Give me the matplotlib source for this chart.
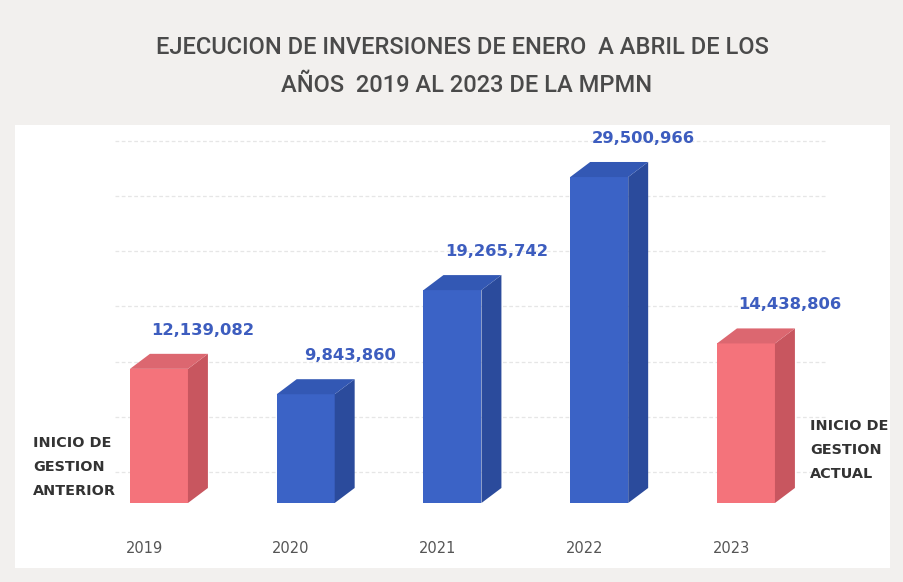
import matplotlib.pyplot as plt
from matplotlib.patches import Polygon, Rectangle

# === DATA ===
years = ["2019", "2020", "2021", "2022", "2023"]
values = [12139082, 9843860, 19265742, 29500966, 14438806]
labels = ["12,139,082", "9,843,860", "19,265,742", "29,500,966", "14,438,806"]
gestion = ["anterior", "otra", "otra", "otra", "actual"]

# === STYLE ===
RED = ("#f4737b", "#c8565f", "#dc6770")     # front, side, top
BLUE = ("#3b63c6", "#2b4b9c", "#3358b4")
BG = "#f2f0ee"

W, H = 904, 582
fig = plt.figure(figsize=(W / 100, H / 100), dpi=100, facecolor=BG)

# white plot area (pixel box -> figure fraction)
fig.patches.append(Rectangle((15 / W, 1 - 568 / H), 875 / W, 443 / H,
                             transform=fig.transFigure, facecolor="white",
                             edgecolor="none", zorder=-5))

# axes: baseline at y=503px, 11.05 px per million, bars 147px apart
ax = fig.add_axes([85.6 / W, 79 / H, 733.75 / W, 386.75 / H])
ax.set_zorder(2)
ax.set_xlim(-0.5, 4.5)
ax.set_ylim(0, 35)
ax.axis("off")
ax.patch.set_alpha(0)

vals_m = [v / 1e6 for v in values]
bw = 0.395      # bar width
ddx = 0.136     # depth offset in x
ddy = 1.36      # depth offset in y (millions)

# faint gridlines on the back wall
for k in range(7):
    gy = 5 * k + 2.8
    ax.plot([-0.3, 4.55], [gy, gy], color="#e6e6e6", lw=0.9,
            ls=(0, (3, 2)), zorder=1, clip_on=False)

for i, (v, g) in enumerate(zip(vals_m, gestion)):
    front, side, top = RED if g != "otra" else BLUE
    x0 = i - bw / 2
    x1 = i + bw / 2
    ax.bar(i, v, width=bw, color=front, edgecolor="none", zorder=3)
    ax.add_patch(Polygon([(x1, 0), (x1 + ddx, ddy), (x1 + ddx, v + ddy), (x1, v)],
                         closed=True, facecolor=side, edgecolor="none", zorder=3))
    ax.add_patch(Polygon([(x0, v), (x1, v), (x1 + ddx, v + ddy), (x0 + ddx, v + ddy)],
                         closed=True, facecolor=top, edgecolor="none", zorder=3))
    ax.text(i + 0.3, v + 3.5, labels[i], ha="center", va="center",
            fontsize=11.8, fontweight="bold", color="#3d5dbf", zorder=4)
    ax.text(i - 0.1, -4.1, years[i], ha="center", va="center",
            fontsize=10.5, color="#555555", clip_on=False)

fig.text(33 / W, 1 - 467 / H, "INICIO DE\nGESTION\nANTERIOR", ha="left",
         va="center", fontsize=10.4, fontweight="bold", color="#333333",
         linespacing=1.9)
fig.text(810 / W, 1 - 450 / H, "INICIO DE\nGESTION\nACTUAL", ha="left",
         va="center", fontsize=10.4, fontweight="bold", color="#333333",
         linespacing=1.9)

fig.text(462 / W, 1 - 48 / H, "EJECUCION DE INVERSIONES DE ENERO  A ABRIL DE LOS",
         ha="center", va="center", fontsize=17, fontweight="medium",
         color="#4a4a4a", family=["Roboto", "DejaVu Sans"])
fig.text(467 / W, 1 - 86 / H, "AÑOS  2019 AL 2023 DE LA MPMN",
         ha="center", va="center", fontsize=17, fontweight="medium",
         color="#4a4a4a", family=["Roboto", "DejaVu Sans"])

fig.savefig("out.png", dpi=100, facecolor=BG)
